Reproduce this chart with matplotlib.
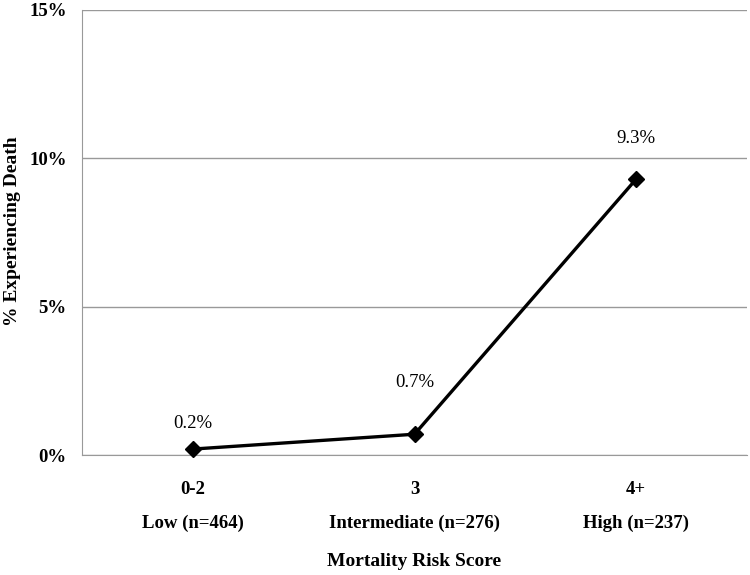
import matplotlib.pyplot as plt
from matplotlib.ticker import FuncFormatter

# ------------ dados -----------------
scores = ["0-2", "3", "4+"]
groups = ["Low (n=464)", "Intermediate (n=276)", "High (n=237)"]
death_pct = [0.2, 0.7, 9.3]

# deslocamento vertical (px) de cada rótulo de valor
label_offsets = [26, 52, 41]

# ------------ gráfico ---------------
plt.rcParams["font.family"] = ["Liberation Serif", "DejaVu Serif"]

fig = plt.figure(figsize=(7.5, 5.75), dpi=100)
ax = fig.add_axes([82 / 750, 1 - 455 / 575, 665 / 750, 445 / 575])

x = list(range(len(scores)))
ax.plot(x, death_pct, color="black", lw=2.4, marker="D", ms=8,
        zorder=3, clip_on=False)

for xi, v, off in zip(x, death_pct, label_offsets):
    ax.annotate(f"{v:.1f}%", (xi, v), xytext=(0, off * 0.72),
                textcoords="offset points", ha="center", va="center",
                fontsize=13.5)

# duas linhas de rótulos no eixo x
for xi, s, g in zip(x, scores, groups):
    ax.annotate(s, (xi, 0), xycoords=("data", "axes fraction"),
                xytext=(0, -35 * 0.72), textcoords="offset points",
                ha="center", va="center", fontsize=13.5, fontweight="bold")
    ax.annotate(g, (xi, 0), xycoords=("data", "axes fraction"),
                xytext=(0, -68 * 0.72), textcoords="offset points",
                ha="center", va="center", fontsize=13.5, fontweight="bold")

ax.set_xlim(-0.5, 2.5)
ax.set_ylim(0, 15)
ax.set_yticks([0, 5, 10, 15])
ax.yaxis.set_major_formatter(FuncFormatter(lambda v, p: f"{v:.0f}%"))
ax.set_xticks(x)
ax.set_xticklabels([])
for lab in ax.get_yticklabels():
    lab.set_fontsize(13.5)
    lab.set_fontweight("bold")

ax.grid(axis="y", color="#999999", lw=1)
ax.set_axisbelow(True)
for s in ["top", "right"]:
    ax.spines[s].set_visible(False)
for s in ["left", "bottom"]:
    ax.spines[s].set_color("#999999")
ax.tick_params(length=0)
ax.tick_params(axis="y", pad=11)

fig.text((82 + 665 / 2) / 750, 1 - 562 / 575, "Mortality Risk Score",
         ha="center", va="center", fontsize=14, fontweight="bold")
fig.text(13 / 750, 1 - 231 / 575, "% Experiencing Death", rotation=90,
         ha="center", va="center", fontsize=14, fontweight="bold")

fig.savefig("out.png", dpi=100)
